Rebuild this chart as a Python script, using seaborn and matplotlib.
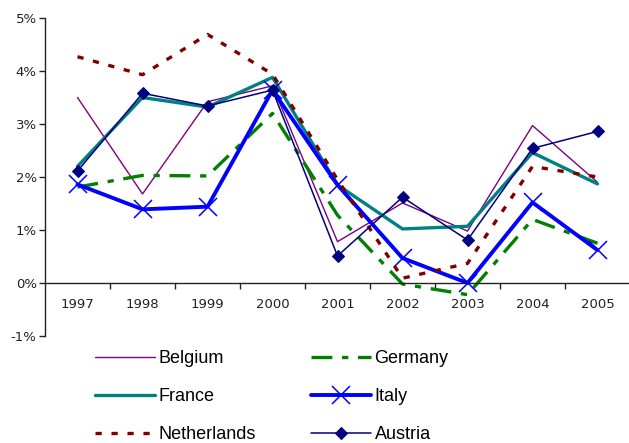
import matplotlib
matplotlib.use("Agg")
import matplotlib.pyplot as plt
import seaborn as sns
import pandas as pd

years = [1997, 1998, 1999, 2000, 2001, 2002, 2003, 2004, 2005]

belgium = [3.50, 1.68, 3.42, 3.72, 0.78, 1.51, 0.98, 2.97, 1.90]
germany = [1.81, 2.03, 2.02, 3.20, 1.28, -0.02, -0.22, 1.20, 0.75]
france = [2.20, 3.50, 3.32, 3.88, 1.85, 1.02, 1.07, 2.46, 1.87]
italy = [1.86, 1.39, 1.44, 3.64, 1.85, 0.47, 0.00, 1.52, 0.62]
netherlands = [4.27, 3.93, 4.69, 3.94, 1.95, 0.09, 0.37, 2.20, 2.00]
austria = [2.11, 3.58, 3.34, 3.64, 0.51, 1.62, 0.81, 2.54, 2.86]

y_ticks = [-1, 0, 1, 2, 3, 4, 5]
y_tick_labels = ["-1%", "0%", "1%", "2%", "3%", "4%", "5%"]

series = {
    "Belgium": belgium,
    "Germany": germany,
    "France": france,
    "Italy": italy,
    "Netherlands": netherlands,
    "Austria": austria,
}

df = pd.DataFrame(
    [(c, y, v) for c, vals in series.items() for y, v in zip(years, vals)],
    columns=["country", "year", "value"],
)

sns.set_theme(style="white")
plt.rcParams["lines.scale_dashes"] = False
plt.rcParams["font.family"] = ["DejaVu Sans"]

W, H = 629, 443
fig = plt.figure(figsize=(W / 100, H / 100), dpi=100)
ax = fig.add_axes([45 / W, 1 - 336 / H, (630 - 45) / W, (336 - 18) / H])

styles = {
    "Belgium": dict(color="#800080", linewidth=1.0),
    "Germany": dict(color="#008000", linewidth=2.4, dashes=(15, 7, 4.5, 7)),
    "France": dict(color="#008080", linewidth=2.4),
    "Italy": dict(color="#0000FF", linewidth=2.8, marker="x", markersize=13,
                  markeredgewidth=1.1, markeredgecolor="#0000FF"),
    "Netherlands": dict(color="#800000", linewidth=2.4, dashes=(4.5, 7)),
    "Austria": dict(color="#000080", linewidth=1.1, marker="D", markersize=6.5,
                    markeredgecolor="#000080", markerfacecolor="#000080"),
}

handles = {}
for name in series:
    sub = df[df["country"] == name]
    kw = dict(styles[name])
    dashes = kw.pop("dashes", None)
    sns.lineplot(data=sub, x="year", y="value", ax=ax, label=name, **kw)
    line = ax.get_lines()[-1]
    if dashes is not None:
        line.set_dashes(dashes)
    handles[name] = line

ax.set_xlim(1996.5, 2005.5)
ax.set_ylim(-1, 5)
ax.set_xlabel("")
ax.set_ylabel("")

for s in ["top", "right"]:
    ax.spines[s].set_visible(False)
ax.spines["bottom"].set_position(("data", 0))
for s in ["left", "bottom"]:
    ax.spines[s].set_color("#222222")
    ax.spines[s].set_linewidth(1.0)

ax.set_yticks(y_ticks)
ax.set_yticklabels(y_tick_labels)
ax.tick_params(axis="y", direction="out", length=4, width=1, color="#222222",
               labelsize=9.5, labelcolor="#222222", pad=2, left=True)

ax.set_xticks([y + 0.5 for y in years[:-1]])
ax.set_xticklabels([])
ax.set_xticks(years, minor=True)
ax.set_xticklabels([str(y) for y in years], minor=True)
ax.tick_params(axis="x", which="major", direction="out", length=4, width=1,
               color="#222222", bottom=True)
ax.tick_params(axis="x", which="minor", length=0, labelsize=9.5,
               labelcolor="#222222", pad=11)
ax.grid(False)

if ax.get_legend() is not None:
    ax.get_legend().remove()

order = ["Belgium", "France", "Netherlands", "Germany", "Italy", "Austria"]
fig.legend(
    [handles[n] for n in order], order,
    loc="upper left", bbox_to_anchor=(95 / W, 1 - 350 / H),
    ncol=2, frameon=False, borderpad=0, borderaxespad=0,
    handlelength=3.3, handletextpad=0.22, columnspacing=3.05,
    labelspacing=1.17, labelcolor="black",
    prop={"family": "Liberation Sans", "size": 13},
)

fig.savefig("out.png", dpi=100)
